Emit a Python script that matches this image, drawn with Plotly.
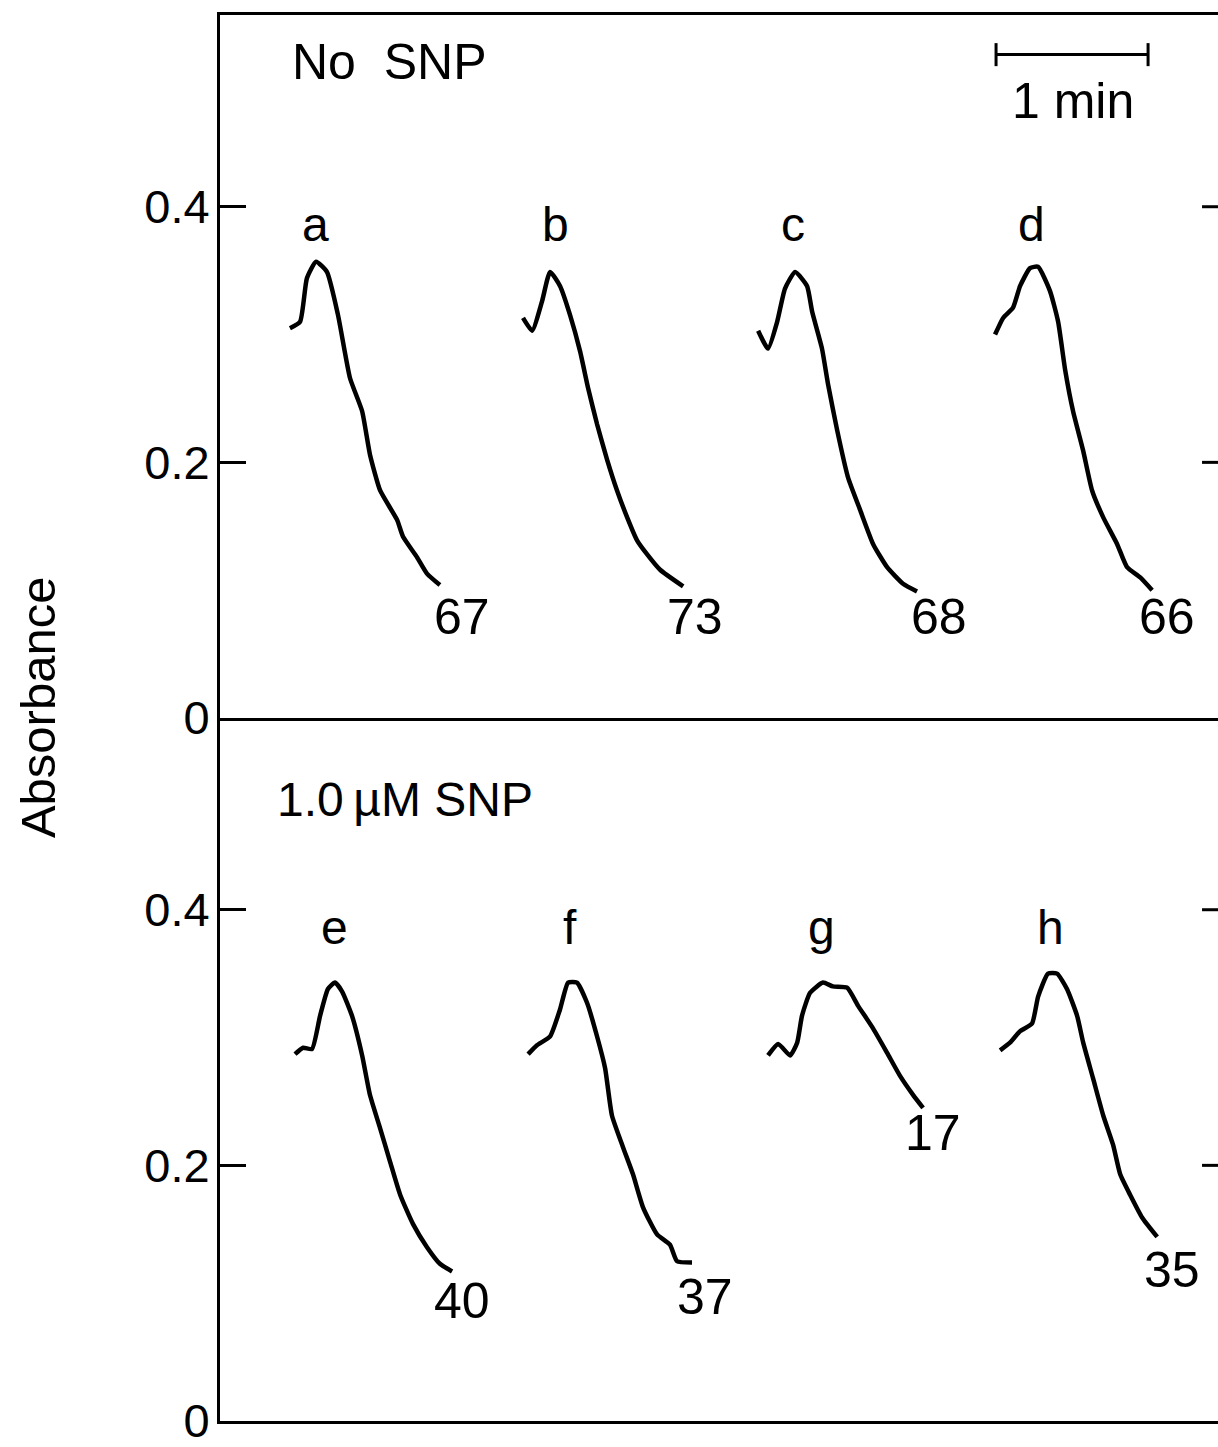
import plotly.graph_objects as go
from plotly.subplots import make_subplots

# Absorbance traces, time in seconds along the recorder chart
a_t = [27.6, 31.6, 34.3, 37.9, 42.2, 46.6, 51.3, 56.1, 59.2, 63.2, 69.9, 72.2, 77.7, 81.7, 86.8]
a_y = [0.305, 0.310, 0.344, 0.357, 0.349, 0.315, 0.266, 0.240, 0.206, 0.178, 0.155, 0.142, 0.126, 0.113, 0.104]

b_t = [119.6, 123.2, 127.1, 130.3, 134.2, 138.2, 142.1, 145.3, 148.8, 152.8, 156.7, 160.7, 164.6, 168.6, 173.7, 182.8]
b_y = [0.313, 0.303, 0.326, 0.349, 0.338, 0.315, 0.287, 0.258, 0.230, 0.202, 0.178, 0.157, 0.139, 0.128, 0.116, 0.103]

c_t = [212.4, 216.3, 219.9, 223.0, 227.0, 231.7, 233.7, 237.6, 240.0, 243.6, 247.9, 252.6, 257.8, 263.3, 269.6, 275.1]
c_y = [0.303, 0.289, 0.310, 0.336, 0.349, 0.338, 0.318, 0.289, 0.261, 0.225, 0.188, 0.163, 0.136, 0.118, 0.105, 0.099]

d_t = [305.9, 309.1, 313.0, 315.8, 319.7, 322.9, 327.6, 330.8, 333.6, 336.7, 340.7, 344.2, 348.6, 354.1, 358.0, 363.2, 367.9]
d_y = [0.300, 0.313, 0.321, 0.338, 0.352, 0.353, 0.334, 0.310, 0.272, 0.240, 0.209, 0.178, 0.157, 0.136, 0.118, 0.110, 0.100]

e_t = [29.6, 32.8, 36.3, 39.5, 42.6, 45.4, 48.2, 52.1, 56.1, 59.2, 63.2, 67.1, 71.1, 76.2, 81.7, 86.8, 91.6]
e_y = [0.287, 0.292, 0.291, 0.317, 0.338, 0.343, 0.336, 0.317, 0.286, 0.255, 0.229, 0.203, 0.177, 0.154, 0.136, 0.123, 0.117]

f_t = [121.6, 125.1, 130.3, 134.2, 137.4, 140.9, 144.9, 148.8, 152.0, 154.7, 159.1, 163.0, 167.0, 172.5, 177.6, 180.4, 186.3]
f_y = [0.287, 0.294, 0.301, 0.322, 0.343, 0.343, 0.327, 0.301, 0.276, 0.239, 0.214, 0.193, 0.167, 0.146, 0.138, 0.125, 0.124]

g_t = [216.3, 220.3, 225.0, 227.8, 229.7, 232.9, 238.0, 241.9, 247.5, 251.8, 257.8, 263.3, 268.4, 273.6, 277.5]
g_y = [0.286, 0.295, 0.286, 0.296, 0.317, 0.335, 0.343, 0.340, 0.339, 0.325, 0.307, 0.288, 0.270, 0.255, 0.245]

h_t = [307.9, 311.8, 315.8, 320.5, 322.9, 326.8, 330.4, 334.3, 338.3, 340.7, 344.6, 348.6, 352.5, 355.3, 359.2, 364.0, 369.9]
h_y = [0.290, 0.296, 0.305, 0.311, 0.332, 0.350, 0.350, 0.338, 0.317, 0.296, 0.268, 0.239, 0.216, 0.193, 0.177, 0.159, 0.144]

trace_names = ["a", "b", "c", "d", "e", "f", "g", "h"]
trace_panel = [1, 1, 1, 1, 2, 2, 2, 2]
trace_end_values = ["67", "73", "68", "66", "40", "37", "17", "35"]
# label positions: letter above the peak, end value below the trace tail
letter_t = [37.5, 132.6, 226.2, 320.1, 45.0, 138.2, 237.6, 327.6]
letter_y = [0.386, 0.386, 0.386, 0.386, 0.386, 0.386, 0.386, 0.386]
value_t = [95.5, 187.5, 283.8, 373.8, 95.5, 191.4, 281.4, 375.8]
value_y = [0.079, 0.079, 0.079, 0.079, 0.094, 0.097, 0.225, 0.118]

panel_titles = ["No  SNP", "1.0\u2009\u00b5M SNP"]
y_ticks = [0, 0.2, 0.4]
y_ticktext = ["0", "0.2", "0.4"]
y_range = [0, 0.55]
t_range = [0, 393.9]

scale_bar_start = 306.3
scale_bar_len = 60.0
scale_bar_y = 0.519

series_t = [a_t, b_t, c_t, d_t, e_t, f_t, g_t, h_t]
series_y = [a_y, b_y, c_y, d_y, e_y, f_y, g_y, h_y]

FONT = "Liberation Sans, Arial, Helvetica, sans-serif"
FS = 50

fig = make_subplots(rows=2, cols=1, vertical_spacing=0)

for t, y, row in zip(series_t, series_y, trace_panel):
    fig.add_trace(
        go.Scatter(x=t, y=y, mode="lines",
                   line=dict(color="black", width=4.5, shape="spline", smoothing=0.5),
                   showlegend=False, hoverinfo="skip"),
        row=row, col=1)

# 1 min scale bar with end caps
cap = 0.009
fig.add_trace(go.Scatter(
    x=[scale_bar_start, scale_bar_start, None,
       scale_bar_start, scale_bar_start + scale_bar_len, None,
       scale_bar_start + scale_bar_len, scale_bar_start + scale_bar_len],
    y=[scale_bar_y - cap, scale_bar_y + cap, None,
       scale_bar_y, scale_bar_y, None,
       scale_bar_y - cap, scale_bar_y + cap],
    mode="lines", line=dict(color="black", width=3),
    showlegend=False, hoverinfo="skip"), row=1, col=1)

axis_common = dict(showgrid=False, zeroline=False, showline=True,
                   linecolor="black", linewidth=3)
# top panel carries the frame's top edge and the shared middle line
fig.update_xaxes(range=t_range, showticklabels=False, ticks="", mirror=True,
                 row=1, col=1, **axis_common)
fig.update_xaxes(range=t_range, showticklabels=False, ticks="", mirror=False,
                 row=2, col=1, **axis_common)
for r in (1, 2):
    fig.update_yaxes(range=y_range, tickvals=y_ticks, ticktext=y_ticktext,
                     ticks="inside", ticklen=26, tickwidth=3, tickcolor="black",
                     ticklabelstandoff=-2, ticklabeloverflow="allow",
                     tickfont=dict(family=FONT, size=47, color="black"),
                     row=r, col=1, **axis_common)

annotations = []
for i, name in enumerate(trace_names):
    sub = "" if trace_panel[i] == 1 else "2"
    annotations.append(dict(x=letter_t[i], y=letter_y[i], xref="x" + sub, yref="y" + sub,
                            text=name, showarrow=False, xanchor="center", yanchor="middle",
                            font=dict(family=FONT, size=48, color="black")))
    annotations.append(dict(x=value_t[i], y=value_y[i], xref="x" + sub, yref="y" + sub,
                            text=trace_end_values[i], showarrow=False, xanchor="center",
                            yanchor="middle",
                            font=dict(family=FONT, size=FS, color="black")))

annotations.append(dict(x=27.6, y=0.513, xref="x", yref="y", text=panel_titles[0],
                        showarrow=False, xanchor="left", yanchor="middle",
                        font=dict(family=FONT, size=FS, color="black")))
annotations.append(dict(x=21.7, y=0.486, xref="x2", yref="y2", text=panel_titles[1],
                        showarrow=False, xanchor="left", yanchor="middle",
                        font=dict(family=FONT, size=48, color="black")))
annotations.append(dict(x=scale_bar_start + scale_bar_len / 2 + 0.5, y=0.483, xref="x", yref="y",
                        text="1 min", showarrow=False, xanchor="center", yanchor="middle",
                        font=dict(family=FONT, size=FS, color="black")))
annotations.append(dict(x=-0.183, y=0.508, xref="paper", yref="paper", text="Absorbance",
                        textangle=-90, showarrow=False, xanchor="center", yanchor="middle",
                        font=dict(family=FONT, size=49, color="black")))

# short inward ticks on the right-hand edge
shapes = []
for sub in ("", "2"):
    for v in (0.2, 0.4):
        shapes.append(dict(type="line", xref="x" + sub + " domain", yref="y" + sub,
                           x0=0.984, x1=1.0, y0=v, y1=v,
                           line=dict(color="black", width=3)))

fig.update_layout(width=1218, height=1447,
                  margin=dict(l=220, r=0, t=15, b=19),
                  paper_bgcolor="white", plot_bgcolor="white",
                  annotations=annotations, shapes=shapes)

fig.write_html("out.html")
